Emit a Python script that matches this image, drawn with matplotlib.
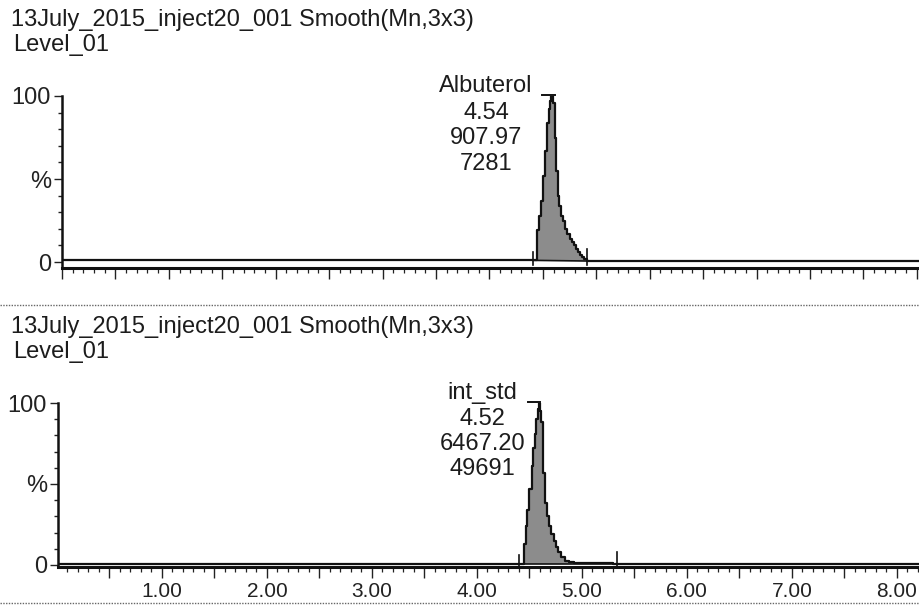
import numpy as np
import matplotlib
matplotlib.use("Agg")
import matplotlib.pyplot as plt
from matplotlib.ticker import MultipleLocator, FuncFormatter, FixedLocator
from matplotlib.lines import Line2D

plt.rcParams['font.family'] = ['Liberation Sans', 'DejaVu Sans']

# ---------------- data ----------------
title_line = "13July_2015_inject20_001 Smooth(Mn,3x3)"
level_line = "Level_01"

peak_names = ["Albuterol", "int_std"]
peak_rt = ["4.54", "4.52"]
peak_area = ["907.97", "6467.20"]
peak_height = ["7281", "49691"]

# integration windows (min)
top_window = [4.41, 4.91]
bot_window = [4.40, 5.33]

# top trace (Albuterol), time in min, intensity in %
top_t = [0.00, 4.41, 4.44, 4.45, 4.465, 4.48, 4.50,
         4.52, 4.54, 4.555, 4.57, 4.58, 4.595, 4.61, 4.625, 4.64, 4.655,
         4.67, 4.69, 4.71, 4.73, 4.75, 4.77, 4.79, 4.81, 4.83, 4.85, 4.87,
         4.89, 4.91, 8.05]
top_pct = [1.0, 1.0, 1.5, 19, 28, 37, 52,
           67, 84, 92, 97, 100, 96, 75, 55, 40, 34,
           28, 25, 20, 17, 14, 12, 10, 8, 6, 4.5, 3,
           2, 0.6, 0.6]

# bottom trace (int_std)
bot_t = [0.00, 4.40, 4.435, 4.45, 4.465, 4.48, 4.50,
         4.52, 4.535, 4.55, 4.565, 4.58, 4.59, 4.605, 4.615, 4.63, 4.65,
         4.67, 4.69, 4.71, 4.73, 4.75, 4.77, 4.80, 4.84, 4.88, 4.92, 5.00,
         5.10, 5.20, 5.30, 5.33, 8.25]
bot_pct = [0.3, 0.3, 0.5, 13, 24, 34, 47,
           61, 72, 81, 90, 96, 100, 95, 88, 57, 38,
           30, 24, 19, 15, 11, 8, 5, 2.5, 1.8, 1.4, 1.3,
           1.2, 1.1, 0.6, 0.3, 0.3]

# ---------------- figure ----------------
W, H = 920, 610
fig = plt.figure(figsize=(W / 100, H / 100), dpi=100)
txt_color = '#1c1c1c'
fs = 17

ax1 = fig.add_axes([62 / W, 1 - 268 / H, 1 - 62 / W, 172 / H])
ax2 = fig.add_axes([58 / W, 1 - 566.6 / H, 1 - 58 / W, 163.6 / H])


def style_axes(ax, xlim, ylim, show_labels):
    ax.set_xlim(*xlim)
    ax.set_ylim(*ylim)
    for s in ['top', 'right']:
        ax.spines[s].set_visible(False)
    ax.spines['left'].set_linewidth(1.8)
    ax.spines['bottom'].set_linewidth(2.2)
    ax.spines['left'].set_color('#111111')
    ax.spines['bottom'].set_color('#111111')
    ax.spines['left'].set_bounds(ylim[0], 100)
    ax.yaxis.set_major_locator(FixedLocator([0, 50, 100]))
    ax.yaxis.set_major_formatter(FuncFormatter(
        lambda v, p: {0: '0', 50: '%', 100: '100'}.get(int(round(v)), '')))
    ax.yaxis.set_minor_locator(MultipleLocator(10))
    ax.tick_params(axis='y', which='major', direction='out', length=6,
                   width=1.0, pad=2, labelsize=fs, colors='#222222')
    ax.tick_params(axis='y', which='minor', direction='out', length=3,
                   width=1.0, colors='#222222')
    ax.xaxis.set_major_locator(MultipleLocator(0.5))
    ax.xaxis.set_minor_locator(MultipleLocator(0.1))
    if show_labels:
        ax.xaxis.set_major_formatter(FuncFormatter(
            lambda v, p: ('%.2f' % v) if (abs(v - round(v)) < 1e-6 and round(v) >= 1) else ''))
    else:
        ax.xaxis.set_major_formatter(FuncFormatter(lambda v, p: ''))
    ax.tick_params(axis='x', which='major', direction='out', length=8,
                   width=1.0, pad=3, labelsize=15, colors='#222222')
    ax.tick_params(axis='x', which='minor', direction='out', length=3.8,
                   width=0.9, colors='#222222')


def draw_peak(ax, t, pct, window, name, rt, area, height, label_x, bar_x):
    t = np.asarray(t, dtype=float)
    pct = np.asarray(pct, dtype=float)
    i0 = int(np.argmin(np.abs(t - window[0])))
    i1 = int(np.argmin(np.abs(t - window[1])))
    tt = t[i0:i1 + 1]
    yy = pct[i0:i1 + 1]
    base = np.interp(tt, [tt[0], tt[-1]], [yy[0], yy[-1]])
    ax.fill_between(tt, base, yy, step='post', color='#8c8c8c', lw=0)
    ax.plot(tt, base, color='#111111', lw=1.2)
    ax.plot(t, pct, drawstyle='steps-post', color='#111111', lw=1.6)
    for w, top in zip(window, [6, 8]):
        ax.plot([w, w], [-2, top], color='#111111', lw=1.2, clip_on=False)
    ax.plot(bar_x, [100.6, 100.6], color='#111111', lw=1.4, clip_on=False)
    for txt, y in zip([name, rt, area, height], [106, 90, 74.5, 59]):
        ax.text(label_x, y, txt, ha='center', va='center', fontsize=fs,
                color=txt_color, clip_on=False)


style_axes(ax1, (0.0, 8.03), (-3.6, 100), False)
style_axes(ax2, (0.01, 8.22), (-1.0, 100), True)

draw_peak(ax1, top_t, top_pct, top_window, peak_names[0], peak_rt[0],
          peak_area[0], peak_height[0], 3.97, [4.49, 4.61])
draw_peak(ax2, bot_t, bot_pct, bot_window, peak_names[1], peak_rt[1],
          peak_area[1], peak_height[1], 4.05, [4.49, 4.60])

# headers
for ytitle, ylevel in [(20, 45), (327, 352)]:
    fig.text(11 / W, 1 - ytitle / H, title_line, ha='left', va='center',
             fontsize=fs, color=txt_color)
    fig.text(13 / W, 1 - ylevel / H, level_line, ha='left', va='center',
             fontsize=fs, color=txt_color)

# dotted separators
for ysep in [305, 603]:
    fig.add_artist(Line2D([0, 1], [1 - ysep / H, 1 - ysep / H],
                          transform=fig.transFigure, color='#666666',
                          lw=1.0, linestyle=(0, (1, 1))))

fig.savefig('out.png', dpi=100, facecolor='white')
